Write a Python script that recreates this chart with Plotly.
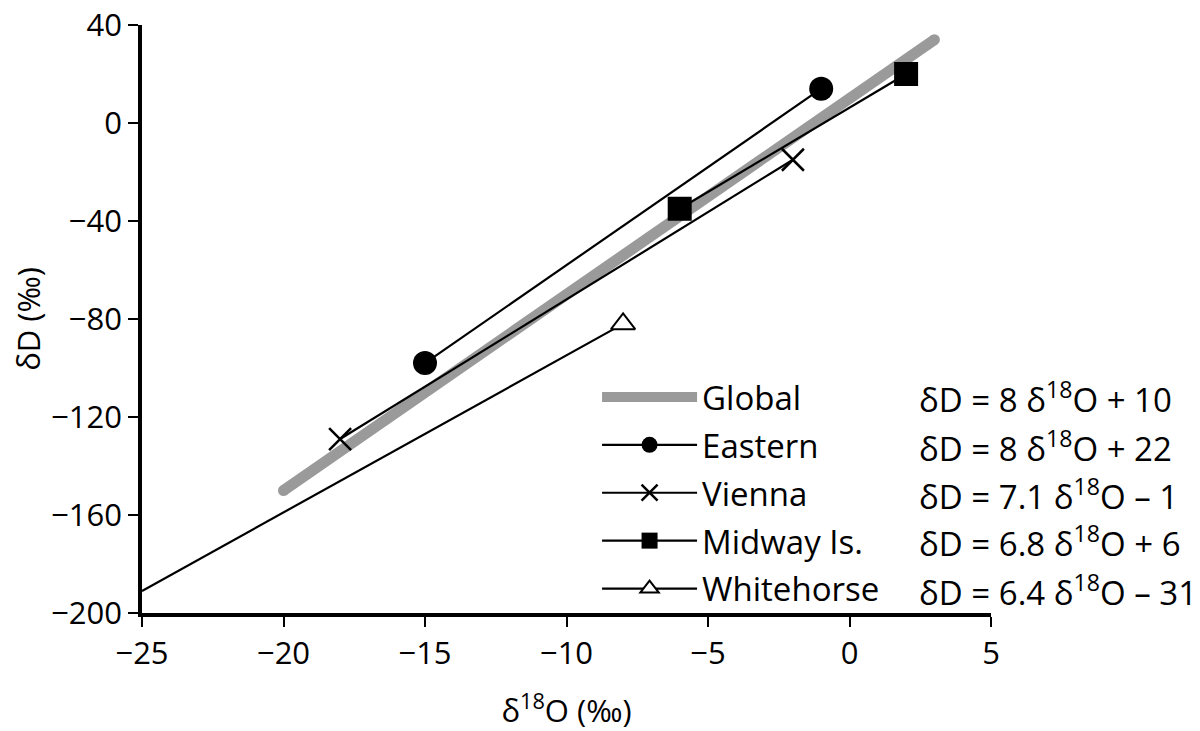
import plotly.graph_objects as go

# Data
global_x = [-20, 3]
global_y = [-150, 34]
eastern_x = [-15, -1]
eastern_y = [-98, 14]
vienna_x = [-18, -2]
vienna_y = [-129, -15]
midway_x = [-6, 2]
midway_y = [-35, 20]
white_x = [-25, -8]
white_y = [-191, -82]

names = ["Global", "Eastern", "Vienna", "Midway Is.", "Whitehorse"]
equations = [
    "δD = 8 δ<sup>18</sup>O + 10",
    "δD = 8 δ<sup>18</sup>O + 22",
    "δD = 7.1 δ<sup>18</sup>O – 1",
    "δD = 6.8 δ<sup>18</sup>O + 6",
    "δD = 6.4 δ<sup>18</sup>O – 31",
]
x_ticks = [-25, -20, -15, -10, -5, 0, 5]
y_ticks = [-200, -160, -120, -80, -40, 0, 40]

FONT = "Open Sans"
GRAY = "#9a9a9a"
FS_TICK = 31
FS_TITLE = 31
FS_LEG = 33

fig = go.Figure()

# Global meteoric water line (thick gray)
fig.add_trace(go.Scatter(x=global_x, y=global_y, mode="lines", name=names[0],
                         line=dict(color=GRAY, width=11), legendgroup="g1"))
# round caps
fig.add_trace(go.Scatter(x=global_x, y=global_y, mode="markers", showlegend=False,
                         marker=dict(color=GRAY, size=11), hoverinfo="skip",
                         legendgroup="g1"))

fig.add_trace(go.Scatter(x=eastern_x, y=eastern_y, mode="lines+markers", name=names[1],
                         line=dict(color="black", width=2.2), legendgroup="g2",
                         marker=dict(symbol="circle", size=24, color="black")))
fig.add_trace(go.Scatter(x=vienna_x, y=vienna_y, mode="lines+markers", name=names[2],
                         line=dict(color="black", width=2.2), legendgroup="g3",
                         marker=dict(symbol="x-thin", size=22, color="black",
                                     line=dict(color="black", width=2.5))))
fig.add_trace(go.Scatter(x=midway_x, y=midway_y, mode="lines+markers", name=names[3],
                         line=dict(color="black", width=2.2), legendgroup="g4",
                         marker=dict(symbol="square", size=24, color="black")))
# Whitehorse line (marker only at upper end)
fig.add_trace(go.Scatter(x=white_x, y=white_y, mode="lines", showlegend=False,
                         line=dict(color="black", width=2.2), legendgroup="g5"))
fig.add_trace(go.Scatter(x=white_x[-1:], y=white_y[-1:], mode="lines+markers", name=names[4],
                         line=dict(color="black", width=2.2), legendgroup="g5",
                         marker=dict(symbol="triangle-up", size=21, color="white",
                                     line=dict(color="black", width=2))))

# Equations column next to legend
row_y = [0.366, 0.284, 0.202, 0.121, 0.039]
for eq, yy in zip(equations, row_y):
    fig.add_annotation(x=0.913, y=yy, xref="paper", yref="paper", text=eq,
                       showarrow=False, xanchor="left", yanchor="middle",
                       font=dict(family=FONT, size=FS_LEG, color="black"))

axis_common = dict(showline=True, linecolor="black", linewidth=3.5, ticks="outside",
                   ticklen=10, tickwidth=2, tickcolor="black", showgrid=False,
                   zeroline=False, automargin=False, ticklabeloverflow="allow",
                   tickfont=dict(family=FONT, size=FS_TICK, color="black"))

fig.update_xaxes(range=[-25, 5], tickvals=x_ticks,
                 title=dict(text="δ<sup>18</sup>O (‰)", font=dict(family=FONT, size=FS_TITLE, color="black"),
                            standoff=32),
                 **axis_common)
fig.update_yaxes(range=[-200, 40], tickvals=y_ticks,
                 title=dict(text="δD (‰)", font=dict(family=FONT, size=FS_TITLE, color="black"),
                            standoff=2),
                 **axis_common)

fig.update_layout(
    width=1200, height=731,
    margin=dict(l=142, r=209, t=25, b=118),
    plot_bgcolor="white", paper_bgcolor="white",
    showlegend=True,
    legend=dict(x=0.536, y=0.415, xanchor="left", yanchor="top",
                traceorder="grouped", tracegroupgap=2, itemwidth=95,
                font=dict(family=FONT, size=FS_LEG, color="black"),
                bgcolor="rgba(0,0,0,0)"),
    font=dict(family=FONT, color="black"),
)

fig.write_html("out.html", config={"displayModeBar": False},
               post_script="document.body.style.margin='0';")
